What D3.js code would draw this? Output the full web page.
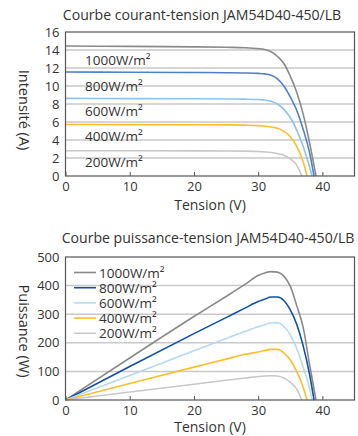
<!DOCTYPE html>
<html>
<head>
<meta charset="utf-8">
<script src="https://cdn.jsdelivr.net/npm/d3@7/dist/d3.min.js"></script>
<style>
  body { margin: 0; background: #fff; }
  text { font-family: "Open Sans", sans-serif; fill: #333; }
</style>
</head>
<body>
<div id="chart"></div>
<script>
// data
var irradiance = ["1000W/m²", "800W/m²", "600W/m²", "400W/m²", "200W/m²"];
var voltage = [0, 10, 20, 25, 28, 30, 31, 32, 33, 34, 35, 36, 37, 38];
var vocValues = [39.0, 38.7, 38.4, 37.6, 36.8];

// current (A) at each voltage, null past Voc
var current1000 = [14.45, 14.40, 14.35, 14.30, 14.25, 14.15, 14.05, 13.80, 13.30, 12.50, 11.10, 9.30, 6.90, 3.70];
var current800  = [11.55, 11.53, 11.50, 11.48, 11.45, 11.40, 11.35, 11.20, 10.80, 10.00, 8.80, 7.30, 5.20, 2.60];
var current600  = [8.62, 8.60, 8.58, 8.56, 8.54, 8.50, 8.45, 8.30, 8.00, 7.40, 6.50, 5.10, 3.30, 1.00];
var current400  = [5.72, 5.71, 5.70, 5.68, 5.65, 5.60, 5.55, 5.45, 5.30, 4.95, 4.35, 3.30, 1.60, null];
var current200  = [2.80, 2.80, 2.79, 2.78, 2.76, 2.72, 2.68, 2.62, 2.50, 2.30, 1.90, 1.20, null, null];

// power (W) at each voltage
var power1000 = [0, 147, 292, 362, 405, 435, 444, 449, 447, 433, 398, 330, 255, 125];
var power800  = [0, 117, 232, 288, 322, 344, 352, 360, 360, 348, 315, 265, 190, 90];
var power600  = [0, 86, 172, 215, 240, 256, 263, 269, 270, 257, 228, 180, 115, 40];
var power400  = [0, 58, 115, 143, 160, 168, 173, 177, 177, 165, 140, 100, 45, null];
var power200  = [0, 28, 55, 69, 77, 82, 84, 85, 84, 77, 62, 38, null, null];

var xTicks = [0, 10, 20, 30, 40];
var currentTicks = [0, 2, 4, 6, 8, 10, 12, 14, 16];
var powerTicks = [0, 100, 200, 300, 400, 500];

// colours
var ivColors = ["#8a8a8a", "#4f7fc5", "#8ec3ee", "#fbbf2c", "#c8c8c8"];
var pvColors = ["#8a8a8a", "#1250a3", "#b8d7f2", "#fbbf2c", "#c8c8c8"];

var W = 358, H = 436;
var svg = d3.select("#chart").append("svg")
    .attr("width", W)
    .attr("height", H);

function makeSeries(values) {
    return values.map(function (vals, s) {
        var pts = voltage.map((v, i) => [v, vals[i]])
            .filter(d => d[1] != null && d[0] < vocValues[s]);
        pts.push([vocValues[s], 0]);
        return pts;
    });
}

function drawPanel(opt) {
    var left = 65.5, right = 354.5;
    var x = d3.scaleLinear().domain([0, 45]).range([left, right]);
    var y = d3.scaleLinear().domain(opt.yDomain).range([opt.bottom, opt.top]);
    var g = svg.append("g");

    // title
    g.append("text")
        .attr("x", opt.titleX)
        .attr("y", opt.titleY)
        .attr("text-anchor", "middle")
        .attr("font-size", "14.1px")
        .text(opt.title);

    // grid
    g.append("g")
        .selectAll("line")
        .data(opt.yTicks.slice(1, -1))
        .enter()
        .append("line")
        .attr("x1", left).attr("x2", right)
        .attr("y1", d => y(d)).attr("y2", d => y(d))
        .attr("stroke", "#c9c9c9")
        .attr("stroke-width", 1.5);

    // curves
    var line = d3.line()
        .x(d => x(d[0]))
        .y(d => y(d[1]))
        .curve(d3.curveMonotoneX);

    g.append("g")
        .selectAll("path")
        .data(opt.series)
        .enter()
        .append("path")
        .attr("d", line)
        .attr("fill", "none")
        .attr("stroke", (d, i) => opt.colors[i])
        .attr("stroke-width", 1.6);

    // frame
    g.append("rect")
        .attr("x", left).attr("y", opt.top)
        .attr("width", right - left).attr("height", opt.bottom - opt.top)
        .attr("fill", "none")
        .attr("stroke", "#555")
        .attr("stroke-width", 1.2);

    // axes
    var xAxis = g.append("g")
        .attr("transform", `translate(0,${opt.bottom})`)
        .call(d3.axisBottom(x).tickValues(xTicks).tickSize(-4).tickPadding(6));
    xAxis.select(".domain").remove();
    xAxis.selectAll("line").attr("stroke", "#555");

    var yAxis = g.append("g")
        .attr("transform", `translate(${left},0)`)
        .call(d3.axisLeft(y).tickValues(opt.yTicks).tickSize(0).tickPadding(6));
    yAxis.select(".domain").remove();

    g.selectAll(".tick text")
        .attr("font-family", "\"Open Sans\", sans-serif")
        .attr("font-size", "13px")
        .attr("fill", "#333");

    // axis titles
    g.append("text")
        .attr("x", 210)
        .attr("y", opt.xLabelY)
        .attr("text-anchor", "middle")
        .attr("font-size", "14px")
        .text("Tension (V)");

    g.append("text")
        .attr("transform", `translate(19,${opt.yLabelY}) rotate(90)`)
        .attr("text-anchor", "middle")
        .attr("font-size", "14.5px")
        .text(opt.yLabel);

    return { g: g, x: x, y: y };
}

// I-V panel
var ivPanel = drawPanel({
    title: "Courbe courant-tension JAM54D40-450/LB",
    titleX: 202, titleY: 20,
    top: 32, bottom: 176,
    yDomain: [0, 16], yTicks: currentTicks,
    yLabel: "Intensité (A)", yLabelY: 110,
    xLabelY: 210,
    series: makeSeries([current1000, current800, current600, current400, current200]),
    colors: ivColors
});

// labels sit between the curves
var labelCurrent = [12.3, 9.4, 6.7, 3.9, 0.95];
ivPanel.g.selectAll("text.irr")
    .data(irradiance)
    .enter()
    .append("text")
    .attr("class", "irr")
    .attr("x", 85)
    .attr("y", (d, i) => ivPanel.y(labelCurrent[i]))
    .attr("font-size", "13.5px")
    .text(d => d);

// P-V panel
var pvPanel = drawPanel({
    title: "Courbe puissance-tension JAM54D40-450/LB",
    titleX: 208, titleY: 243,
    top: 257, bottom: 400,
    yDomain: [0, 500], yTicks: powerTicks,
    yLabel: "Puissance (W)", yLabelY: 331,
    xLabelY: 432,
    series: makeSeries([power1000, power800, power600, power400, power200]),
    colors: pvColors
});

// legend
var legend = pvPanel.g.selectAll("g.legend")
    .data(irradiance)
    .enter()
    .append("g")
    .attr("class", "legend")
    .attr("transform", (d, i) => `translate(74,${272.5 + i * 15.2})`);

legend.append("line")
    .attr("x1", 0).attr("x2", 22)
    .attr("stroke", (d, i) => pvColors[i])
    .attr("stroke-width", 1.6);

legend.append("text")
    .attr("x", 25)
    .attr("y", 5)
    .attr("font-size", "13.5px")
    .text(d => d);
</script>
</body>
</html>
